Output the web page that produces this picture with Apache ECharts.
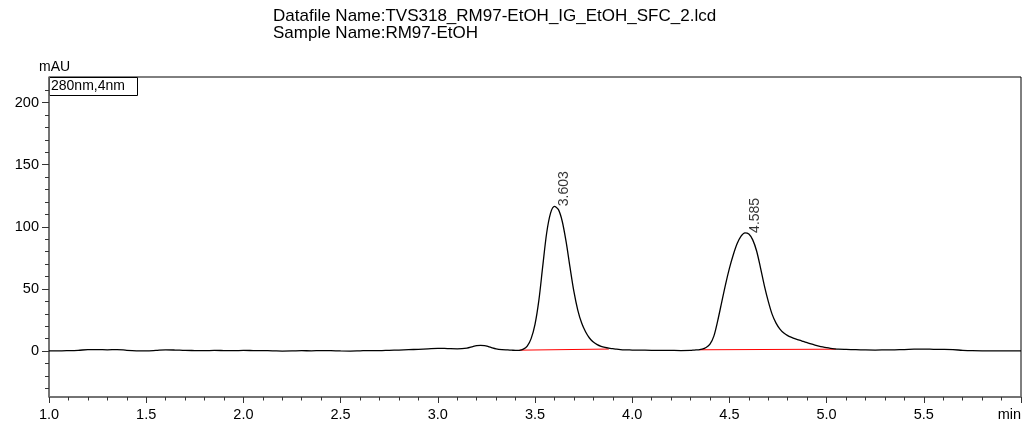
<!DOCTYPE html>
<html>
<head>
<meta charset="utf-8">
<script src="https://cdn.jsdelivr.net/npm/echarts@6/dist/echarts.min.js"></script>
<style>
html,body{margin:0;padding:0;background:#fff;}
#chart{width:1024px;height:425px;}
</style>
</head>
<body>
<div id="chart"></div>
<script>
// Retention time (min)
const times = [
  1.00,1.05,1.10,1.15,1.20,1.25,1.30,1.35,1.40,1.45,1.50,1.55,1.60,1.65,1.70,1.75,1.80,1.85,1.90,1.95,
  2.00,2.05,2.10,2.15,2.20,2.25,2.30,2.35,2.40,2.45,2.50,2.55,2.60,2.65,2.70,2.75,2.80,2.85,2.90,2.95,
  3.00,3.05,3.10,3.15,3.18,3.20,3.22,3.24,3.26,3.28,3.30,3.33,3.36,3.38,
  3.40,3.42,3.44,3.46,3.48,3.50,3.52,3.54,3.56,3.58,3.60,3.62,3.64,3.66,3.68,3.70,3.72,3.74,3.76,3.78,
  3.80,3.82,3.84,3.86,3.88,3.90,3.92,3.94,3.96,3.98,4.00,4.05,4.10,4.15,4.20,4.25,4.30,
  4.32,4.34,4.36,4.38,4.40,4.42,4.44,4.46,4.48,4.50,4.52,4.54,4.56,4.58,4.60,4.62,4.64,4.66,4.68,4.70,
  4.72,4.74,4.76,4.78,4.80,4.82,4.84,4.86,4.88,4.90,4.92,4.94,4.96,4.98,5.00,5.02,5.04,5.06,5.10,
  5.15,5.20,5.25,5.30,5.35,5.40,5.45,5.50,5.55,5.60,5.65,5.70,5.75,5.80,5.85,5.90,5.95,6.00
];
// Absorbance (mAU)
const signal = [
  0.2,0.1,0.3,0.6,1.1,1.2,1.0,1.2,0.6,0.2,0.1,0.5,1.0,0.8,0.5,0.4,0.3,0.5,0.4,0.3,
  0.5,0.4,0.3,0.2,0.0,0.1,0.3,0.2,0.4,0.3,0.1,0.0,0.2,0.4,0.3,0.6,0.8,1.1,1.4,1.8,
  2.2,2.0,1.8,2.4,3.6,4.3,4.6,4.4,3.6,2.6,1.8,1.2,0.9,0.7,
  0.5,0.6,1.5,4,10,21.5,41,68.5,95,111,116.5,114,104.5,88,67.5,48,33,22.5,15.5,10.5,
  7.3,5.2,3.8,2.9,2.3,1.9,1.5,1.2,1.0,0.9,0.8,0.7,0.6,0.6,0.5,0.4,0.5,
  0.8,1.0,1.5,2.8,5.5,12,24.5,39,53.5,66.5,77.5,86.5,92.5,95.2,94.2,89.5,80.5,67,52.5,40,
  29.5,22.5,17.7,14.5,12.4,11,9.8,8.7,7.7,6.7,5.7,4.8,4.0,3.3,2.7,2.2,1.8,1.5,1.3,
  1.1,0.9,0.8,0.9,1.0,1.2,1.5,1.6,1.4,1.3,1.1,0.6,0.3,0.2,0.2,0.1,0.2,0.2
];
// Integration baselines [time, value] endpoints
const baseline1 = [[3.42, 0.7], [3.88, 1.6]];
const baseline2 = [[4.345, 1.0], [5.048, 1.5]];
// Peak apexes: time, height, label
const peakTimes = [3.603, 4.585];
const peakHeights = [116.6, 95.1];
const peakLabels = ['3.603', '4.585'];
// Axis ticks
const yLabelValues = [0, 50, 100, 150, 200];
const yMinorValues = [-30, -20, -10, 10, 20, 30, 40, 60, 70, 80, 90, 110, 120, 130, 140, 160, 170, 180, 190, 210];
const titleLines = ['Datafile Name:TVS318_RM97-EtOH_IG_EtOH_SFC_2.lcd', 'Sample Name:RM97-EtOH'];
const seriesName = '280nm,4nm';

const FONT = '"Liberation Sans", Arial, sans-serif';
const chart = echarts.init(document.getElementById('chart'), null, {renderer: 'canvas'});

const yMin = -37, yMax = 220.6;
const axisGray = '#707070';

const option = {
  animation: false,
  backgroundColor: '#fff',
  title: {
    text: titleLines.join('\n'),
    left: 268, top: 3,
    textStyle: {fontFamily: FONT, fontSize: 17, fontWeight: 'normal', color: '#000', lineHeight: 17}
  },
  grid: {left: 49, right: 1, top: 77, bottom: 28, show: true, borderColor: '#000', borderWidth: 1, backgroundColor: 'transparent'},
  xAxis: {
    type: 'value', min: 1, max: 6, interval: 0.5,
    axisLine: {show: true, onZero: false, lineStyle: {color: axisGray, width: 1.5}},
    axisTick: {show: true, length: 6, lineStyle: {color: '#333'}},
    minorTick: {show: true, splitNumber: 5, length: 3.5, lineStyle: {color: '#333'}},
    splitLine: {show: false},
    axisLabel: {
      margin: 10, color: '#000', fontFamily: FONT, fontSize: 14.5,
      alignMaxLabel: 'right',
      formatter: v => (Math.abs(v - 6) < 1e-9 ? 'min' : v.toFixed(1))
    }
  },
  yAxis: [
    {
      type: 'value', min: yMin, max: yMax, position: 'left',
      name: 'mAU', nameLocation: 'end', nameGap: 3,
      nameTextStyle: {fontFamily: FONT, fontSize: 14, color: '#000', align: 'left', padding: [0, 0, 0, -10]},
      axisLine: {show: true, onZero: false, lineStyle: {color: axisGray, width: 1.5}},
      axisTick: {show: true, length: 7, customValues: yLabelValues, lineStyle: {color: '#333'}},
      axisLabel: {show: true, margin: 10, color: '#000', fontFamily: FONT, fontSize: 14.5, customValues: yLabelValues},
      splitLine: {show: false}
    },
    {
      type: 'value', min: yMin, max: yMax, position: 'left',
      axisLine: {show: false},
      axisTick: {show: true, length: 4, customValues: yMinorValues, lineStyle: {color: '#333'}},
      axisLabel: {show: false},
      splitLine: {show: false}
    }
  ],
  graphic: [
    {
      type: 'group', left: 49, top: 77,
      children: [
        {type: 'rect', shape: {x: 0, y: 0, width: 88, height: 18}, style: {fill: '#fff', stroke: '#000', lineWidth: 1}},
        {type: 'text', x: 1.5, y: 2, style: {text: seriesName, font: '14px ' + FONT, fill: '#000'}}
      ]
    }
  ],
  series: [
    {
      name: seriesName, type: 'line', xAxisIndex: 0, yAxisIndex: 0,
      data: times.map((t, i) => [t, signal[i]]),
      showSymbol: false, smooth: 0.3, silent: true,
      lineStyle: {color: '#000', width: 1.3}, z: 3
    },
    {
      type: 'line', data: baseline1, showSymbol: false, silent: true,
      lineStyle: {color: '#ff0000', width: 1}, z: 2
    },
    {
      type: 'line', data: baseline2, showSymbol: false, silent: true,
      lineStyle: {color: '#ff0000', width: 1}, z: 2
    },
    {
      type: 'scatter', symbolSize: 0, silent: true, z: 4,
      data: peakTimes.map((t, i) => [t, peakHeights[i], peakLabels[i]]),
      label: {
        show: true, position: 'right', distance: 9, rotate: 90,
        formatter: p => p.value[2],
        fontFamily: FONT, fontSize: 14, color: '#000'
      }
    }
  ]
};
chart.setOption(option);
</script>
</body>
</html>
